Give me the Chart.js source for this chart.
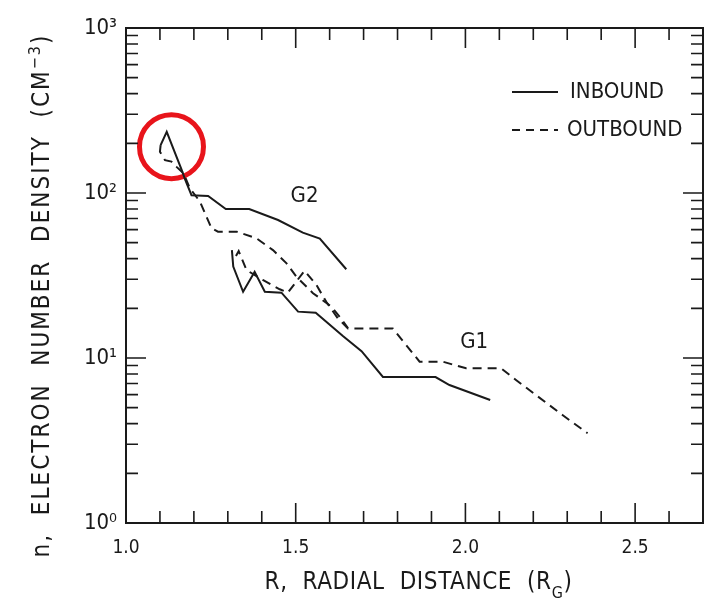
<!DOCTYPE html>
<html>
<head>
<meta charset="utf-8">
<script src="https://cdn.jsdelivr.net/npm/chart.js@4"></script>
<style>
  html, body { margin: 0; padding: 0; background: #fff; }
</style>
</head>
<body>
<canvas id="myChart" width="704" height="601"></canvas>
<script>
// values (R in Ganymede radii, n in cm^-3)
const g2InR = [1.102, 1.120, 1.164, 1.174, 1.193, 1.242, 1.294, 1.363, 1.448, 1.521, 1.571, 1.649];
const g2InN = [195, 235, 138, 121, 97, 96, 80, 80, 68.6, 57.5, 53, 34.5];

const g2OutR = [1.102, 1.100, 1.115, 1.134, 1.149, 1.169, 1.188, 1.218, 1.252, 1.271, 1.326, 1.384, 1.433, 1.473, 1.502, 1.551, 1.605, 1.629, 1.654];
const g2OutN = [195, 178, 158, 155, 144, 132, 107, 88.6, 61.1, 58.3, 58.3, 53.2, 45.1, 37.5, 31.1, 24.7, 20.5, 17.8, 15.2];

const g1InR = [1.312, 1.316, 1.345, 1.379, 1.409, 1.458, 1.507, 1.559, 1.639, 1.694, 1.757, 1.912, 1.953, 2.073];
const g1InN = [45.1, 35.8, 25.2, 33.3, 25.2, 24.9, 19.1, 18.8, 13.6, 11.0, 7.67, 7.67, 6.86, 5.56];

const g1OutR = [1.324, 1.332, 1.355, 1.403, 1.453, 1.477, 1.526, 1.561, 1.590, 1.624, 1.654, 1.786, 1.865, 1.933, 2.002, 2.105, 2.149, 2.286, 2.360];
const g1OutN = [41.5, 44.5, 34.1, 29.7, 26.1, 24.9, 33.8, 27.7, 21.9, 17.4, 15.1, 15.1, 9.5, 9.5, 8.66, 8.66, 7.36, 4.51, 3.50];

// flyby labels and the red highlight circle
const flybyNames = ["G2", "G1"];
const flybyR = [1.526, 2.026];
const flybyN = [96, 12.5];
const circleR = [1.134];
const circleN = [191];

// axis ticks
const xLabelTicks = [1.0, 1.5, 2.0, 2.5];
const xMinorTicks = [1.1, 1.2, 1.3, 1.4, 1.6, 1.7, 1.8, 1.9, 2.1, 2.2, 2.3, 2.4, 2.6];
const yLabelTicks = [1, 10, 100, 1000];
const yLabelText = ["10\u2070", "10\u00b9", "10\u00b2", "10\u00b3"];

const INK = "#1a1a1a";
const FONT = "'Liberation Sans Narrow', 'DejaVu Sans Condensed', 'Liberation Sans', sans-serif";

const pts = (xs, ys) => xs.map((x, i) => ({ x: x, y: ys[i] }));

// text with super/subscript pieces, centred on cx
function drawRich(ctx, parts, size, cx, cy) {
  const fonts = parts.map(p => (p[1] ? Math.round(size * 0.68) : size) + "px " + FONT);
  const widths = parts.map((p, i) => { ctx.font = fonts[i]; return ctx.measureText(p[0]).width; });
  let x = cx - widths.reduce((a, b) => a + b, 0) / 2;
  parts.forEach((p, i) => {
    ctx.font = fonts[i];
    ctx.fillText(p[0], x, cy + p[1] * size * 0.36);
    x += widths[i];
  });
}

const frame = {
  id: "frame",
  afterDraw(chart) {
    const { ctx, chartArea: a, scales } = chart;
    const xs = scales.x, ys = scales.y;
    ctx.save();
    ctx.strokeStyle = INK;
    ctx.fillStyle = INK;
    ctx.lineWidth = 2;
    ctx.strokeRect(a.left, a.top, a.right - a.left, a.bottom - a.top);

    // inward ticks on all four sides
    ctx.lineWidth = 1.6;
    ctx.beginPath();
    const xt = (v, len) => {
      const px = xs.getPixelForValue(v);
      ctx.moveTo(px, a.bottom); ctx.lineTo(px, a.bottom - len);
      ctx.moveTo(px, a.top); ctx.lineTo(px, a.top + len);
    };
    xLabelTicks.forEach(v => xt(v, 20));
    xMinorTicks.forEach(v => xt(v, 12));
    const yt = (v, len) => {
      const py = ys.getPixelForValue(v);
      ctx.moveTo(a.left, py); ctx.lineTo(a.left + len, py);
      ctx.moveTo(a.right, py); ctx.lineTo(a.right - len, py);
    };
    yLabelTicks.forEach(v => yt(v, 20));
    [1, 10, 100].forEach(d => {
      for (let m = 2; m <= 9; m++) yt(d * m, 12);
    });
    ctx.stroke();

    // legend
    ctx.lineWidth = 2;
    const lx0 = a.left + 386, lx1 = a.left + 432;
    ctx.beginPath();
    ctx.moveTo(lx0, a.top + 64); ctx.lineTo(lx1, a.top + 64);
    ctx.stroke();
    ctx.setLineDash([8, 6]);
    ctx.beginPath();
    ctx.moveTo(lx0, a.top + 102); ctx.lineTo(lx1, a.top + 102);
    ctx.stroke();
    ctx.setLineDash([]);
    ctx.font = "22px " + FONT;
    ctx.textBaseline = "middle";
    ctx.textAlign = "left";
    ctx.fillText("INBOUND", a.left + 444, a.top + 64);
    ctx.fillText("OUTBOUND", a.left + 441, a.top + 102);

    // flyby names
    ctx.font = "22px " + FONT;
    ctx.textAlign = "center";
    flybyNames.forEach((t, i) => {
      ctx.fillText(t, xs.getPixelForValue(flybyR[i]), ys.getPixelForValue(flybyN[i]));
    });

    // axis titles
    ctx.textAlign = "left";
    ctx.textBaseline = "alphabetic";
    ctx.letterSpacing = "0.6px";
    drawRich(ctx, [["R,  RADIAL  DISTANCE  (R", 0], ["G", 1], [")", 0]], 24, (a.left + a.right) / 2 + 4, a.bottom + 66);
    ctx.letterSpacing = "2px";
    ctx.translate(49, (a.top + a.bottom) / 2 + 20);
    ctx.rotate(-Math.PI / 2);
    drawRich(ctx, [["n,  ELECTRON  NUMBER  DENSITY  (CM", 0], ["\u22123", -1], [")", 0]], 24, 0, 0);
    ctx.restore();
  }
};

const lineStyle = (dash) => ({
  borderColor: INK,
  borderWidth: 2,
  borderDash: dash,
  pointRadius: 0,
  tension: 0,
  fill: false
});

const config = {
  type: "line",
  data: {
    datasets: [
      { label: "G2 inbound", data: pts(g2InR, g2InN), ...lineStyle([]) },
      { label: "G2 outbound", data: pts(g2OutR, g2OutN), ...lineStyle([9, 6]) },
      { label: "G1 inbound", data: pts(g1InR, g1InN), ...lineStyle([]) },
      { label: "G1 outbound", data: pts(g1OutR, g1OutN), ...lineStyle([9, 6]) },
      {
        type: "scatter",
        label: "highlight",
        data: pts(circleR, circleN),
        pointRadius: 32,
        pointHoverRadius: 32,
        pointStyle: "circle",
        borderColor: "#e8141b",
        backgroundColor: "rgba(0,0,0,0)",
        borderWidth: 5,
        clip: false
      }
    ]
  },
  options: {
    responsive: false,
    animation: false,
    devicePixelRatio: 1,
    layout: { autoPadding: false, padding: { top: 28, right: 1, left: 0, bottom: 0 } },
    plugins: { legend: { display: false }, tooltip: { enabled: false } },
    scales: {
      x: {
        type: "linear",
        min: 1.0,
        max: 2.7,
        afterBuildTicks: (s) => { s.ticks = xLabelTicks.map(v => ({ value: v })); },
        afterFit: (s) => {
          s.height = 78;
          s.paddingLeft = 0; s.paddingRight = 0;
        },
        grid: { display: false, drawTicks: false },
        border: { display: false },
        ticks: {
          color: INK,
          padding: 14,
          maxRotation: 0,
          font: { family: FONT, size: 19 },
          callback: (v) => v.toFixed(1)
        }
      },
      y: {
        type: "logarithmic",
        min: 1,
        max: 1000,
        afterBuildTicks: (s) => { s.ticks = yLabelTicks.map(v => ({ value: v })); },
        afterFit: (s) => {
          s.width = 126;
          s.paddingTop = 0; s.paddingBottom = 0;
        },
        grid: { display: false, drawTicks: false },
        border: { display: false },
        ticks: {
          color: INK,
          padding: 9,
          font: { family: FONT, size: 22 },
          callback: (v) => yLabelText[yLabelTicks.indexOf(v)]
        }
      }
    }
  },
  plugins: [frame]
};

new Chart(document.getElementById("myChart"), config);
</script>
</body>
</html>
